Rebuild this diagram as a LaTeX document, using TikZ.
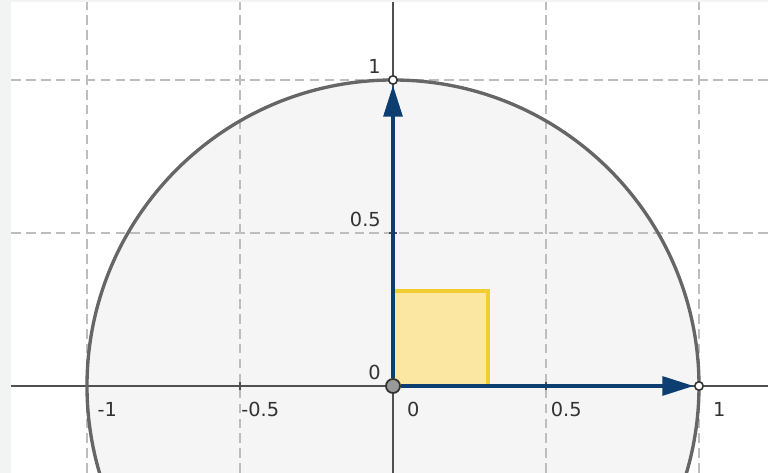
\documentclass[tikz,border=0pt]{standalone}
\usepackage{fontspec}
\setmainfont{DejaVu Sans}
\usetikzlibrary{arrows.meta}
\definecolor{stripgray}{HTML}{F2F4F4}
\definecolor{gridgray}{HTML}{BDBDBD}
\definecolor{axisgray}{HTML}{505050}
\definecolor{discfill}{HTML}{F5F5F5}
\definecolor{discline}{HTML}{666666}
\definecolor{sqfill}{HTML}{FBE7A2}
\definecolor{sqline}{HTML}{F3CC30}
\definecolor{vecblue}{HTML}{0D3E72}
\definecolor{ptdark}{HTML}{333333}
\definecolor{ptgray}{HTML}{999999}
\definecolor{lblgray}{HTML}{333333}

\begin{document}
\begin{tikzpicture}[x=6.12cm,y=6.12cm,
  gridline/.style={gridgray,line width=0.6pt,dash pattern=on 5.5pt off 3pt},
  axisline/.style={axisgray,line width=0.8pt},
  vec/.style={vecblue,line width=2.6pt,-{Triangle[length=18pt,width=10.5pt]}},
  openpt/.style={circle,draw=ptdark,fill=white,line width=0.9pt,inner sep=0pt,minimum size=4.8pt},
  originpt/.style={circle,draw=ptdark,fill=ptgray,line width=1pt,inner sep=0pt,minimum size=8pt},
  xlbl/.style={anchor=base,inner sep=0pt,text=lblgray,font=\fontsize{11}{13}\selectfont},
  ylbl/.style={anchor=base east,inner sep=0pt,text=lblgray,font=\fontsize{11}{13}\selectfont}]
 \useasboundingbox (-1.2843,-0.2843) rectangle (1.2255,1.2614);
 \fill[stripgray] (-1.2843,-0.2843) rectangle (-1.2484,1.2614);
 \fill[stripgray] (-1.2843,1.2549) rectangle (1.2255,1.2614);
 \fill[discfill] (0,0) circle (1);
 % grid
 \foreach \x in {-1,-0.5,0.5,1} \draw[gridline] (\x,-0.2843) -- (\x,1.2549);
 \foreach \y in {0.5,1} \draw[gridline] (-1.2484,\y) -- (1.2255,\y);
 % axes and ticks
 \draw[axisline] (-1.2484,0) -- (1.2255,0);
 \draw[axisline] (0,-0.2843) -- (0,1.2549);
 \foreach \x in {-1,-0.5,0.5,1} \draw[axisline] (\x,-0.013) -- (\x,0.013);
 \foreach \y in {0.5,1} \draw[axisline] (-0.013,\y) -- (0.013,\y);
 \draw[discline,line width=1.9pt] (0,0) circle (1);
 \filldraw[fill=sqfill,draw=sqline,line width=2.2pt] (0,0) rectangle (0.31,0.31);
 % points and vectors
 \node[originpt] (O) at (0,0) {};
 \node[openpt] (X) at (1,0) {};
 \node[openpt] (Y) at (0,1) {};
 \draw[vec] (O) -- (X);
 \draw[vec] (O) -- (Y);
 % labels
 \foreach \x/\t [count=\i] in {-1/-1,-0.5/-0.5,0/0,0.5/0.5,1/1}
  \node[xlbl] (xl\i) at (\x+0.066,-0.101) {\t};
 \foreach \y [count=\i] in {0,0.5,1}
  \node[ylbl] (yl\i) at (-0.039,\y+0.02) {\y};
\end{tikzpicture}
\end{document}
